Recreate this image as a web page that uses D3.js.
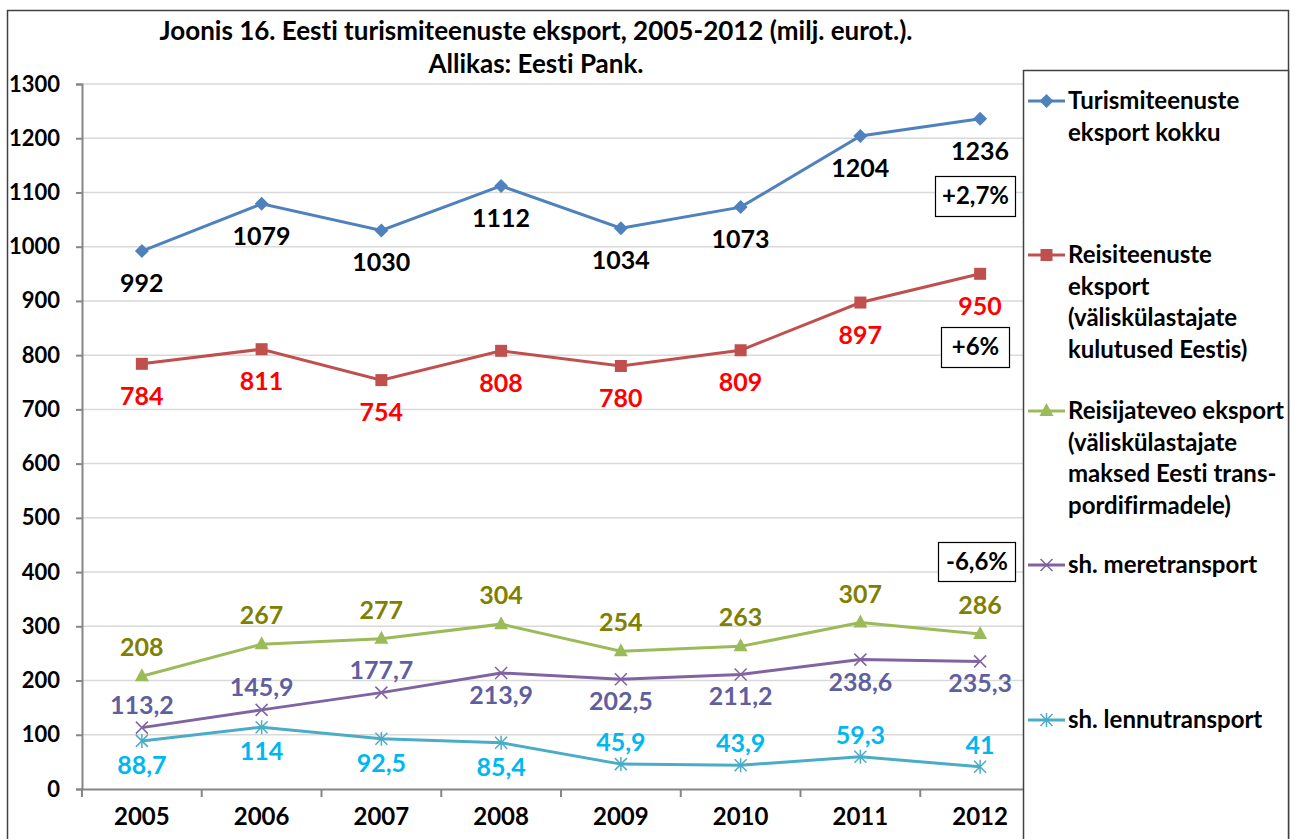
<!DOCTYPE html>
<html>
<head>
<meta charset="utf-8">
<script src="https://cdn.jsdelivr.net/npm/d3@7"></script>
<style>
body { margin: 0; background: #fff; }
svg { font-family: Lato, "Open Sans", sans-serif; font-weight: bold; font-variant-ligatures: none; }
</style>
</head>
<body>
<svg id="chart" width="1295" height="839"></svg>
<script>
// data
var years = ['2005', '2006', '2007', '2008', '2009', '2010', '2011', '2012'];
var kokku = [992, 1079, 1030, 1112, 1034, 1073, 1204, 1236];
var reisiteenused = [784, 811, 754, 808, 780, 809, 897, 950];
var reisijateveo = [208, 267, 277, 304, 254, 263, 307, 286];
var meretransport = [113.2, 145.9, 177.7, 213.9, 202.5, 211.2, 238.6, 235.3];
var lennutransport = [88.7, 114, 92.5, 85.4, 45.9, 43.9, 59.3, 41];
var yTicks = [0, 100, 200, 300, 400, 500, 600, 700, 800, 900, 1000, 1100, 1200, 1300];
// label placement: 1 = below the point, -1 = above
var meriPos = [-1, -1, -1, 1, 1, 1, 1, 1];
var lennuPos = [1, 1, 1, 1, -1, -1, -1, -1];

var series = [
  {name: ['Turismiteenuste', 'eksport kokku'], values: kokku, color: '#4F81BD', label: '#000000', marker: 'diamond', pos: kokku.map(function() { return 1; }), dyBelow: 41, legendY: 101},
  {name: ['Reisiteenuste', 'eksport', '(väliskülastajate', 'kulutused Eestis)'], values: reisiteenused, color: '#C0504D', label: '#FF0000', marker: 'square', pos: reisiteenused.map(function() { return 1; }), dyBelow: 41, legendY: 255},
  {name: ['Reisijateveo eksport', '(väliskülastajate', 'maksed Eesti trans-', 'pordifirmadele)'], values: reisijateveo, color: '#9BBB59', label: '#808000', marker: 'triangle', pos: reisijateveo.map(function() { return -1; }), dyAbove: -20, legendY: 411},
  {name: ['sh. meretransport'], values: meretransport, color: '#8064A2', label: '#5F5F9F', marker: 'x', pos: meriPos, dyAbove: -14, dyBelow: 31, legendY: 565},
  {name: ['sh. lennutransport'], values: lennutransport, color: '#4BACC6', label: '#00B8F0', marker: 'star', pos: lennuPos, dyAbove: -13, dyBelow: 33, legendY: 720}
];

var svg = d3.select('#chart');
var plotLeft = 82, plotRight = 1040, plotTop = 84, plotBottom = 789;

var x = d3.scaleBand().domain(years).range([plotLeft, plotRight]);
var y = d3.scaleLinear().domain([0, 1300]).range([plotBottom, plotTop]);

// outer frame
svg.append('rect').attr('x', 7.5).attr('y', 10.5).attr('width', 1281).attr('height', 840)
  .attr('fill', '#fff').attr('stroke', '#404040').attr('stroke-width', 1.5);

// title
svg.append('text').attr('x', 536).attr('y', 40).attr('text-anchor', 'middle')
  .attr('font-size', 26).text('Joonis 16. Eesti turismiteenuste eksport, 2005-2012 (milj. eurot.).');
svg.append('text').attr('x', 536).attr('y', 73).attr('text-anchor', 'middle')
  .attr('font-size', 26).text('Allikas: Eesti Pank.');

// grid
svg.append('g').selectAll('line').data(yTicks.slice(1)).enter().append('line')
  .attr('x1', plotLeft).attr('x2', plotRight)
  .attr('y1', function(d) { return y(d); }).attr('y2', function(d) { return y(d); })
  .attr('stroke', '#D9D9D9').attr('stroke-width', 1.5);

// y axis
var yAxis = svg.append('g').attr('transform', 'translate(' + plotLeft + ',0)')
  .call(d3.axisLeft(y).tickValues(yTicks).tickFormat(d3.format('d')).tickSize(6).tickPadding(16));
yAxis.selectAll('text').attr('font-size', 22).attr('fill', '#000').attr('font-family', 'Lato').attr('font-weight', 'bold');
yAxis.selectAll('line, path').attr('stroke', '#868686').attr('stroke-width', 2);

// x axis
var xAxis = svg.append('g').attr('transform', 'translate(0,' + plotBottom + ')')
  .call(d3.axisBottom(x).tickSize(0).tickPadding(19));
xAxis.selectAll('text').attr('font-size', 24).attr('fill', '#000').attr('font-family', 'Lato').attr('font-weight', 'bold');
xAxis.select('path').attr('stroke', '#868686').attr('stroke-width', 2);
xAxis.selectAll('.bound').data(years.map(function(d) { return x(d); }).concat([plotRight])).enter().append('line')
  .attr('class', 'bound').attr('x1', function(d) { return d; }).attr('x2', function(d) { return d; })
  .attr('y1', 0).attr('y2', 8).attr('stroke', '#868686').attr('stroke-width', 2);

function cx(i) { return x(years[i]) + x.bandwidth() / 2; }

function drawMarker(g, type, color) {
  if (type === 'diamond') {
    g.append('path').attr('d', 'M0,-7L7,0L0,7L-7,0Z').attr('fill', color);
  } else if (type === 'square') {
    g.append('rect').attr('x', -6).attr('y', -6).attr('width', 12).attr('height', 12).attr('fill', color);
  } else if (type === 'triangle') {
    g.append('path').attr('d', 'M0,-8L7,5L-7,5Z').attr('fill', color);
  } else if (type === 'x') {
    g.append('path').attr('d', 'M-6,-6L6,6M-6,6L6,-6').attr('stroke', color).attr('stroke-width', 1.5);
  } else {
    g.append('path').attr('d', 'M-6,-6L6,6M-6,6L6,-6M0,-7L0,7').attr('stroke', color).attr('stroke-width', 1.5);
  }
}

var line = d3.line().x(function(d, i) { return cx(i); }).y(function(d) { return y(d); });

series.forEach(function(s) {
  svg.append('path').datum(s.values).attr('d', line)
    .attr('fill', 'none').attr('stroke', s.color).attr('stroke-width', 3);
  s.values.forEach(function(v, i) {
    var m = svg.append('g').attr('transform', 'translate(' + cx(i) + ',' + y(v) + ')');
    drawMarker(m, s.marker, s.color);
  });
  svg.append('g').selectAll('text').data(s.values).enter().append('text')
    .attr('x', function(d, i) { return cx(i); })
    .attr('y', function(d, i) { return y(d) + (s.pos[i] > 0 ? s.dyBelow : s.dyAbove); })
    .attr('text-anchor', 'middle').attr('font-size', 25).attr('fill', s.label)
    .text(function(d) { return String(d).replace('.', ','); });
});

// change boxes
var boxes = [
  {text: '+2,7%', x: 935, y: 176, w: 80, h: 40},
  {text: '+6%', x: 941, y: 327, w: 68, h: 40},
  {text: '-6,6%', x: 938, y: 542, w: 77, h: 39}
];
boxes.forEach(function(b) {
  svg.append('rect').attr('x', b.x + 0.5).attr('y', b.y + 0.5).attr('width', b.w).attr('height', b.h)
    .attr('fill', '#fff').attr('stroke', '#000').attr('stroke-width', 1.2);
  svg.append('text').attr('x', b.x + b.w / 2 + 0.5).attr('y', b.y + b.h / 2 + 8)
    .attr('text-anchor', 'middle').attr('font-size', 24).attr('fill', '#000').text(b.text);
});

// legend
svg.append('rect').attr('x', 1023.5).attr('y', 70.5).attr('width', 265).attr('height', 800)
  .attr('fill', '#fff').attr('stroke', '#404040').attr('stroke-width', 1.5);
series.forEach(function(s) {
  svg.append('line').attr('x1', 1028).attr('x2', 1065).attr('y1', s.legendY).attr('y2', s.legendY)
    .attr('stroke', s.color).attr('stroke-width', 3);
  var m = svg.append('g').attr('transform', 'translate(1046.5,' + s.legendY + ')');
  drawMarker(m, s.marker, s.color);
  svg.append('g').selectAll('text').data(s.name).enter().append('text')
    .attr('x', 1068).attr('y', function(d, i) { return s.legendY + 8 + i * 31.5; })
    .attr('font-size', 24).attr('fill', '#000').text(function(d) { return d; });
});
</script>
</body>
</html>
